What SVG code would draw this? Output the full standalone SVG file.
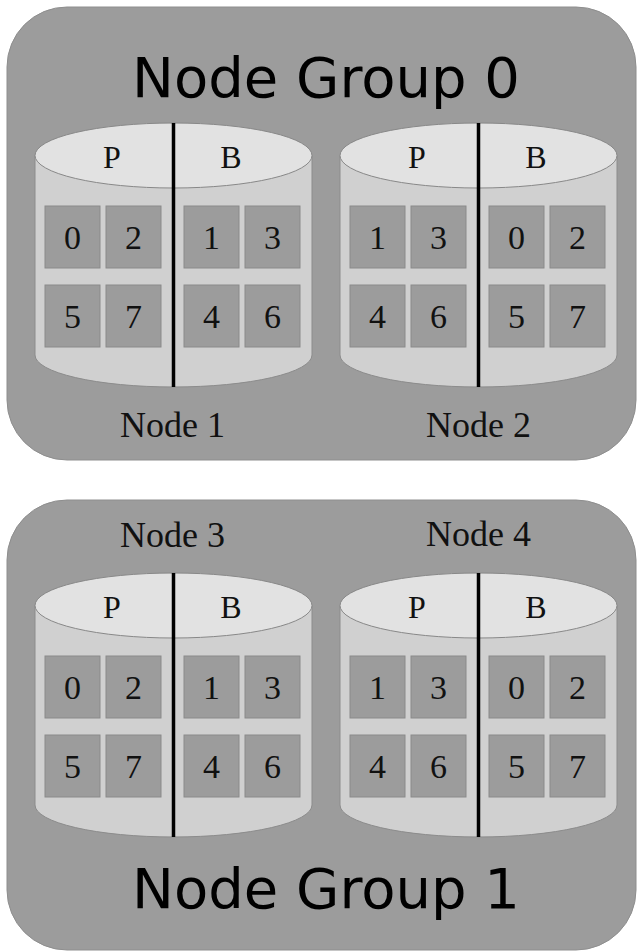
<svg xmlns="http://www.w3.org/2000/svg" xmlns:xlink="http://www.w3.org/1999/xlink" width="637" height="952" viewBox="0 0 637 952">
<style>
.grp{fill:#9c9c9c;stroke:#8e8e8e;stroke-width:1}
.body{fill:#d0d0d0;stroke:#8c8c8c;stroke-width:1}
.top{fill:#e2e2e2;stroke:#888;stroke-width:1}
.sq{fill:#9c9c9c;stroke:#8a8a8a;stroke-width:1}
.div{stroke:#000;stroke-width:3.5;fill:none}
.gt{font-family:"DejaVu Sans",Verdana,sans-serif;font-size:56px;fill:#000;text-anchor:middle}
.nl{font-family:"Liberation Serif","Times New Roman",serif;font-size:36px;fill:#111;text-anchor:middle}
.pb{font-family:"Liberation Serif","Times New Roman",serif;font-size:32px;fill:#111;text-anchor:middle}
.dg{font-family:"Liberation Serif","Times New Roman",serif;font-size:34px;fill:#111;text-anchor:middle}
</style>
<defs>
<g id="cyl">
<path class="body" d="M35,155.5 L35,355 A138.5,32 0 0 0 312,355 L312,155.5 Z"/>
<ellipse class="top" cx="173.5" cy="155.5" rx="138.5" ry="32.5"/>
<rect class="sq" x="45" y="206" width="55" height="62"/>
<rect class="sq" x="106" y="206" width="55" height="62"/>
<rect class="sq" x="184" y="206" width="55" height="62"/>
<rect class="sq" x="245" y="206" width="55" height="62"/>
<rect class="sq" x="45" y="285" width="55" height="62"/>
<rect class="sq" x="106" y="285" width="55" height="62"/>
<rect class="sq" x="184" y="285" width="55" height="62"/>
<rect class="sq" x="245" y="285" width="55" height="62"/>
</g>
</defs>
<rect width="637" height="952" fill="#fff"/>
<g id="group0">
<rect class="grp" x="7" y="7" width="629" height="453" rx="60" ry="60"/>
<text class="gt" x="326" y="97">Node Group 0</text>
</g>
<g id="group1">
<rect class="grp" x="7" y="500" width="629" height="450" rx="60" ry="60"/>
<text class="gt" x="326" y="908">Node Group 1</text>
</g>
<g id="node1">
<use xlink:href="#cyl"/>
<text class="pb" x="112" y="168">P</text>
<text class="pb" x="231" y="168">B</text>
<text class="dg" x="72.5" y="249">0</text>
<text class="dg" x="133.5" y="249">2</text>
<text class="dg" x="211.5" y="249">1</text>
<text class="dg" x="272.5" y="249">3</text>
<text class="dg" x="72.5" y="328">5</text>
<text class="dg" x="133.5" y="328">7</text>
<text class="dg" x="211.5" y="328">4</text>
<text class="dg" x="272.5" y="328">6</text>
<text class="nl" x="172.5" y="437">Node 1</text>
</g>
<g id="node2" transform="translate(305,0)">
<use xlink:href="#cyl"/>
<text class="pb" x="112" y="168">P</text>
<text class="pb" x="231" y="168">B</text>
<text class="dg" x="72.5" y="249">1</text>
<text class="dg" x="133.5" y="249">3</text>
<text class="dg" x="211.5" y="249">0</text>
<text class="dg" x="272.5" y="249">2</text>
<text class="dg" x="72.5" y="328">4</text>
<text class="dg" x="133.5" y="328">6</text>
<text class="dg" x="211.5" y="328">5</text>
<text class="dg" x="272.5" y="328">7</text>
<text class="nl" x="173.5" y="437">Node 2</text>
</g>
<g id="node3" transform="translate(0,450)">
<use xlink:href="#cyl"/>
<text class="pb" x="112" y="168">P</text>
<text class="pb" x="231" y="168">B</text>
<text class="dg" x="72.5" y="249">0</text>
<text class="dg" x="133.5" y="249">2</text>
<text class="dg" x="211.5" y="249">1</text>
<text class="dg" x="272.5" y="249">3</text>
<text class="dg" x="72.5" y="328">5</text>
<text class="dg" x="133.5" y="328">7</text>
<text class="dg" x="211.5" y="328">4</text>
<text class="dg" x="272.5" y="328">6</text>
<text class="nl" x="172.5" y="97">Node 3</text>
</g>
<g id="node4" transform="translate(305,450)">
<use xlink:href="#cyl"/>
<text class="pb" x="112" y="168">P</text>
<text class="pb" x="231" y="168">B</text>
<text class="dg" x="72.5" y="249">1</text>
<text class="dg" x="133.5" y="249">3</text>
<text class="dg" x="211.5" y="249">0</text>
<text class="dg" x="272.5" y="249">2</text>
<text class="dg" x="72.5" y="328">4</text>
<text class="dg" x="133.5" y="328">6</text>
<text class="dg" x="211.5" y="328">5</text>
<text class="dg" x="272.5" y="328">7</text>
<text class="nl" x="173.5" y="96">Node 4</text>
</g>
<g id="dividers">
<line class="div" x1="173.5" y1="123" x2="173.5" y2="387"/>
<line class="div" x1="478.5" y1="123" x2="478.5" y2="387"/>
<line class="div" x1="173.5" y1="573" x2="173.5" y2="837"/>
<line class="div" x1="478.5" y1="573" x2="478.5" y2="837"/>
</g>
</svg>
